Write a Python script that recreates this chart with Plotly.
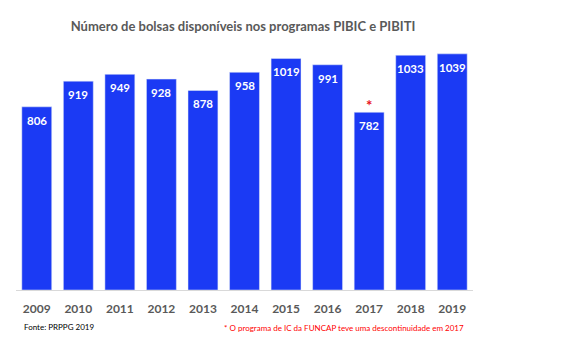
import plotly.graph_objects as go

years = ["2009", "2010", "2011", "2012", "2013", "2014", "2015", "2016", "2017", "2018", "2019"]
bolsas = [806, 919, 949, 928, 878, 958, 1019, 991, 782, 1033, 1039]
idx = list(range(len(years)))

fig = go.Figure()
fig.add_trace(go.Bar(
    x=idx, y=bolsas, width=0.72,
    marker=dict(color="#1b3af4"),
    hoverinfo="skip",
))

fig.update_layout(
    width=576, height=350,
    margin=dict(l=16, r=103, t=40, b=60),
    paper_bgcolor="white", plot_bgcolor="white",
    showlegend=False,
    title=dict(text="<b>Número de bolsas disponíveis nos programas PIBIC e PIBITI</b>",
               x=243/576, xanchor="center", y=1-26/350, yanchor="middle",
               font=dict(family="Lato", size=13, color="#595959")),
    xaxis=dict(range=[-0.5, len(years) - 0.5], tickmode="array", tickvals=idx,
               ticktext=["<b>%s</b>" % y for y in years],
               showline=True, linecolor="#d9d9d9", linewidth=1,
               ticks="outside", ticklen=8, tickcolor="rgba(0,0,0,0)",
               tickfont=dict(family="Lato", size=12, color="#595959"),
               showgrid=False, zeroline=False),
    yaxis=dict(range=[0, 1100], visible=False, showgrid=False),
)

for i, v in zip(idx, bolsas):
    fig.add_annotation(x=i, y=v, xref="x", yref="y", text="<b>%d</b>" % v,
                       showarrow=False, yanchor="top", yshift=-5,
                       font=dict(family="Lato", size=11.5, color="white"))

fig.add_annotation(x=years.index("2017"), y=bolsas[years.index("2017")], xref="x", yref="y",
                   text="<b>*</b>", showarrow=False, yanchor="bottom", yshift=-4,
                   font=dict(family="Lato", size=15, color="#e8101a"))
fig.add_annotation(x=(22-16)/457, xref="paper", xanchor="left",
                   y=-(327-290)/250, yref="paper", yanchor="middle",
                   text="Fonte: PRPPG 2019", showarrow=False,
                   font=dict(family="Lato", size=8, color="#000000"))
fig.add_annotation(x=(466-16)/457, xref="paper", xanchor="right",
                   y=-(328-290)/250, yref="paper", yanchor="middle",
                   text="* O programa de IC da FUNCAP teve uma descontinuidade em 2017",
                   showarrow=False,
                   font=dict(family="Lato", size=8, color="#ff0000"))

fig.write_html("out.html")
